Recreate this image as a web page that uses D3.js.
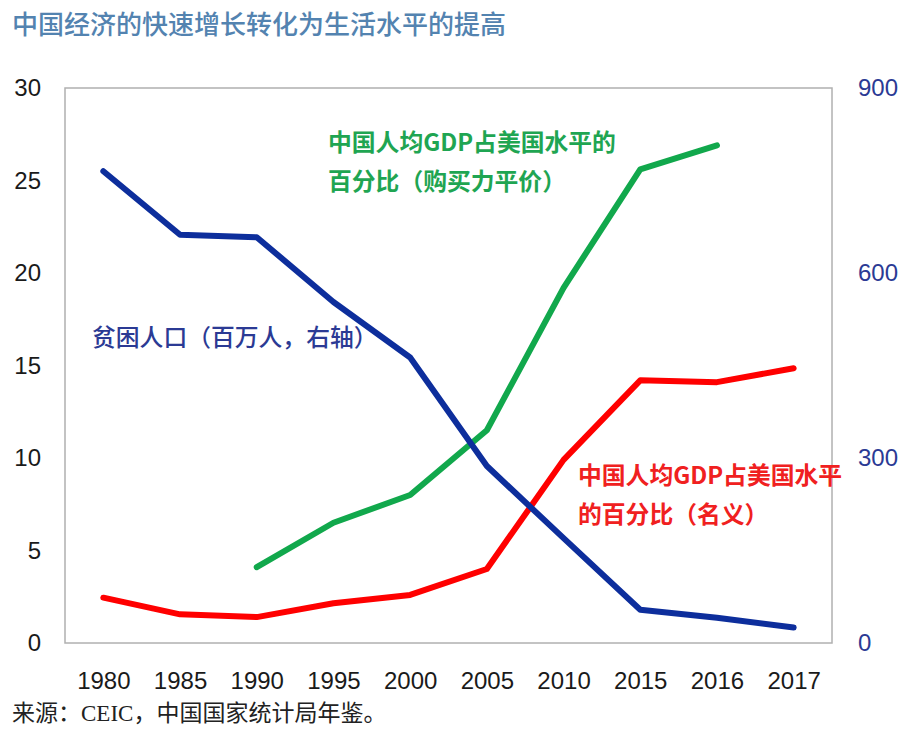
<!DOCTYPE html>
<html><head><meta charset="utf-8">
<script src="https://cdn.jsdelivr.net/npm/d3@7"></script>
<style>
html,body{margin:0;padding:0;background:#fff;}
svg{display:block;}
</style></head>
<body>
<svg id="chart" width="901" height="729"></svg>
<script>
const years = ["1980","1985","1990","1995","2000","2005","2010","2015","2016","2017"];
const poverty = [765, 662, 658, 553, 463, 287, 170, 54, 41, 25];           // millions, right axis
const gdpPPP = [null, null, 4.1, 6.5, 8.0, 11.5, 19.2, 25.6, 26.9, null]; // % of US, PPP
const gdpNominal = [2.45, 1.55, 1.4, 2.15, 2.6, 4.0, 9.9, 14.2, 14.1, 14.85]; // % of US, nominal
const leftTicks = [0, 5, 10, 15, 20, 25, 30];
const rightTicks = [0, 300, 600, 900];

const titleText = "中国经济的快速增长转化为生活水平的提高";
const sourceText = "来源：CEIC，中国国家统计局年鉴。";
const greenLabel = ["中国人均GDP占美国水平的", "百分比（购买力平价）"];
const redLabel = ["中国人均GDP占美国水平", "的百分比（名义）"];
const blueLabel = ["贫困人口（百万人，右轴）"];

const svg = d3.select("#chart");
const plot = {left: 65, right: 832, top: 88, bottom: 643};
const cjk = "'Noto Sans CJK SC', 'Microsoft YaHei', sans-serif";
const num = "'Liberation Sans Narrow', 'Arial Narrow', 'Liberation Sans', sans-serif";

const x = d3.scalePoint().domain(years).range([plot.left, plot.right]).padding(0.5);
const yL = d3.scaleLinear().domain([0, 30]).range([plot.bottom, plot.top]);
const yR = d3.scaleLinear().domain([0, 900]).range([plot.bottom, plot.top]);

// title
svg.append("text").attr("x", 12).attr("y", 22).attr("dominant-baseline", "central")
  .attr("font-family", cjk).attr("font-size", 26).attr("font-weight", 500).attr("fill", "#5383b0").text(titleText);

// plot frame
svg.append("rect").attr("x", plot.left).attr("y", plot.top)
  .attr("width", plot.right - plot.left).attr("height", plot.bottom - plot.top)
  .attr("fill", "none").attr("stroke", "#b0b0b0").attr("stroke-width", 1.5);

// axes
const gL = svg.append("g").attr("transform", `translate(${plot.left - 24},0)`)
  .call(d3.axisLeft(yL).tickValues(leftTicks).tickSize(0).tickPadding(0).tickFormat(d3.format("d")));
const gR = svg.append("g").attr("transform", `translate(${plot.right + 26},0)`)
  .call(d3.axisRight(yR).tickValues(rightTicks).tickSize(0).tickPadding(0).tickFormat(d3.format("d")));
const gX = svg.append("g").attr("transform", `translate(0,${plot.bottom + 37})`)
  .call(d3.axisBottom(x).tickSize(0).tickPadding(0));
[gL, gR, gX].forEach(g => {
  g.select(".domain").remove();
  g.selectAll("text").attr("font-family", num).attr("font-size", 24);
});
gL.selectAll("text").attr("fill", "#1a1a1a");
gR.selectAll("text").attr("fill", "#2b3a94");
gX.selectAll("text").attr("fill", "#1a1a1a").attr("dy", null).attr("dominant-baseline", "central");

// lines
function drawLine(vals, scale, color) {
  const pts = years.map((yr, i) => ({yr, v: vals[i]}));
  const line = d3.line().defined(d => d.v != null).x(d => x(d.yr)).y(d => scale(d.v));
  svg.append("path").datum(pts).attr("d", line).attr("fill", "none")
    .attr("stroke", color).attr("stroke-width", 6).attr("stroke-linejoin", "round").attr("stroke-linecap", "round");
}
drawLine(gdpPPP, yL, "#11a84c");
drawLine(gdpNominal, yL, "#ff0000");
drawLine(poverty, yR, "#0d2e9c");

// labels
function label(lines, lx, ly, color, weight) {
  const t = svg.append("text").attr("font-family", cjk).attr("font-size", 23.8)
    .attr("font-weight", weight).attr("fill", color);
  lines.forEach((s, i) => t.append("tspan").attr("x", lx).attr("y", ly + i * 39)
    .attr("dominant-baseline", "central").text(s));
}
label(greenLabel, 328, 140, "#1fa552", "bold");
label(redLabel, 578, 473, "#f02020", "bold");
label(blueLabel, 92, 335, "#2b3a94", 500);

// source
svg.append("text").attr("x", 12).attr("y", 713).attr("dominant-baseline", "central")
  .attr("font-family", "'Liberation Serif', 'Noto Sans CJK SC', serif").attr("font-size", 23)
  .attr("fill", "#222").text(sourceText);
</script>
</body></html>
